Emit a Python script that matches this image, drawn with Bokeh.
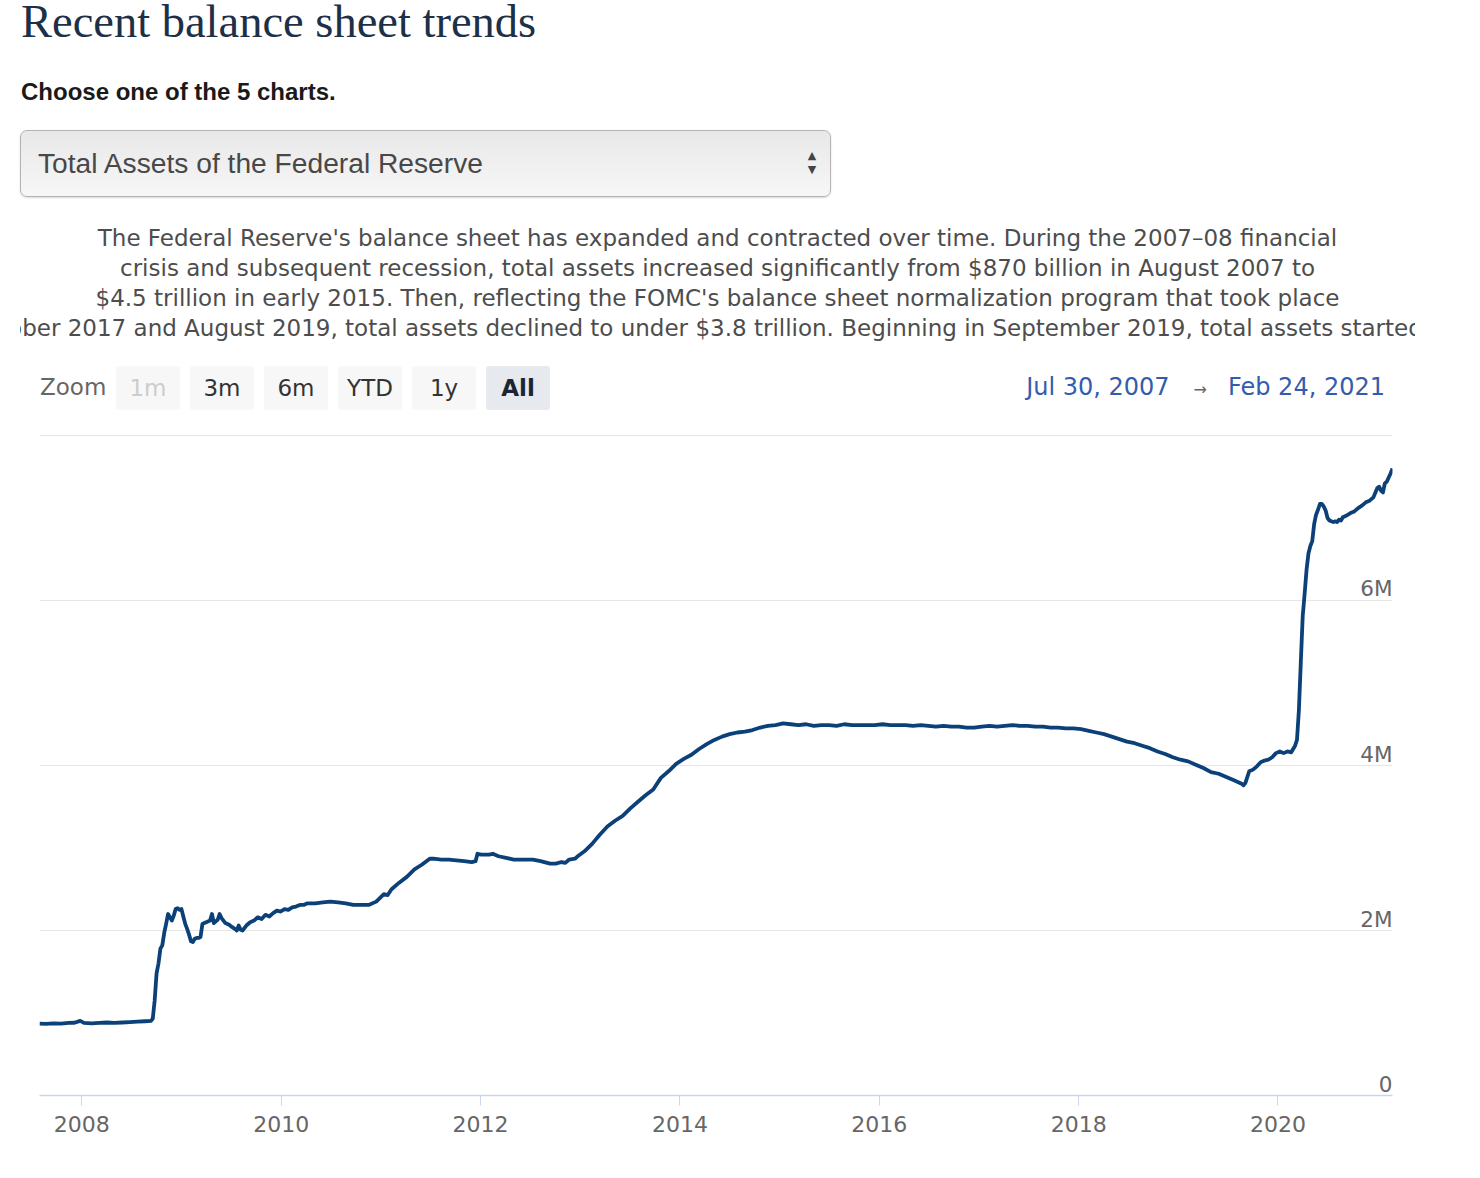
import pandas as pd
from bokeh.plotting import figure
from bokeh.models import (Div, Range1d, FixedTicker, DatetimeTickFormatter, ColumnDataSource,
                          LabelSet)
from bokeh.layouts import column
from bokeh.embed import file_html
from bokeh.resources import INLINE
from bokeh.core.properties import value

# ---------------- data ----------------
dates = [
    "2007-07-30", "2007-08-22", "2007-09-19", "2007-10-17", "2007-11-14", "2007-12-05",
    "2007-12-26", "2008-01-09", "2008-02-06", "2008-03-05", "2008-04-02", "2008-04-30",
    "2008-05-28", "2008-06-25", "2008-07-23", "2008-08-20", "2008-09-10", "2008-09-17",
    "2008-09-24", "2008-10-01", "2008-10-08", "2008-10-15", "2008-10-22", "2008-10-29",
    "2008-11-05", "2008-11-12", "2008-11-19", "2008-11-26", "2008-12-03", "2008-12-10",
    "2008-12-17", "2008-12-24", "2008-12-31", "2009-01-07", "2009-01-14", "2009-01-21",
    "2009-01-28", "2009-02-04", "2009-02-11", "2009-02-18", "2009-02-25", "2009-03-04",
    "2009-03-11", "2009-03-18", "2009-03-25", "2009-04-01", "2009-04-15", "2009-04-22",
    "2009-04-29", "2009-05-06", "2009-05-13", "2009-05-20", "2009-05-27", "2009-06-03",
    "2009-06-10", "2009-06-24", "2009-07-01", "2009-07-15", "2009-07-22", "2009-07-29",
    "2009-08-05", "2009-08-12", "2009-08-26", "2009-09-09", "2009-09-23", "2009-10-07",
    "2009-10-21", "2009-11-04", "2009-11-18", "2009-12-02", "2009-12-16", "2009-12-30",
    "2010-01-13", "2010-01-27", "2010-02-10", "2010-02-24", "2010-03-10", "2010-03-24",
    "2010-04-07", "2010-05-05", "2010-06-02", "2010-06-30", "2010-07-28", "2010-08-25",
    "2010-09-22", "2010-10-20", "2010-11-17", "2010-12-15", "2011-01-12", "2011-01-26",
    "2011-02-09", "2011-03-09", "2011-04-06", "2011-05-04", "2011-06-01", "2011-06-29",
    "2011-07-13", "2011-08-10", "2011-09-07", "2011-10-05", "2011-11-02", "2011-11-30",
    "2011-12-14", "2011-12-21", "2012-01-04", "2012-02-01", "2012-02-15", "2012-03-07",
    "2012-04-04", "2012-05-02", "2012-06-13", "2012-07-11", "2012-08-08", "2012-09-12",
    "2012-10-03", "2012-10-24", "2012-11-07", "2012-11-21", "2012-12-12", "2012-12-26",
    "2013-01-16", "2013-02-13", "2013-03-13", "2013-04-10", "2013-05-08", "2013-06-05",
    "2013-07-03", "2013-07-31", "2013-08-28", "2013-09-25", "2013-10-23", "2013-11-20",
    "2013-12-18", "2014-01-15", "2014-02-12", "2014-03-12", "2014-04-09", "2014-05-07",
    "2014-06-04", "2014-07-02", "2014-07-30", "2014-08-27", "2014-09-24", "2014-10-22",
    "2014-11-19", "2014-12-17", "2015-01-14", "2015-02-11", "2015-03-11", "2015-04-08",
    "2015-05-06", "2015-06-03", "2015-07-01", "2015-07-29", "2015-08-26", "2015-09-23",
    "2015-10-21", "2015-11-18", "2015-12-16", "2016-01-13", "2016-02-10", "2016-03-09",
    "2016-04-06", "2016-05-04", "2016-06-01", "2016-06-29", "2016-07-27", "2016-08-24",
    "2016-09-21", "2016-10-19", "2016-11-16", "2016-12-14", "2017-01-11", "2017-02-08",
    "2017-03-08", "2017-04-05", "2017-05-03", "2017-05-31", "2017-06-28", "2017-07-26",
    "2017-08-23", "2017-09-20", "2017-10-18", "2017-11-15", "2017-12-13", "2018-01-10",
    "2018-02-07", "2018-03-07", "2018-04-04", "2018-05-02", "2018-05-30", "2018-06-27",
    "2018-07-25", "2018-08-22", "2018-09-19", "2018-10-17", "2018-11-14", "2018-12-12",
    "2019-01-09", "2019-02-06", "2019-03-06", "2019-04-03", "2019-05-01", "2019-05-29",
    "2019-06-26", "2019-07-24", "2019-08-21", "2019-08-28", "2019-09-04", "2019-09-18",
    "2019-10-02", "2019-10-16", "2019-10-30", "2019-11-13", "2019-11-27", "2019-12-11",
    "2019-12-25", "2020-01-08", "2020-01-22", "2020-02-05", "2020-02-19", "2020-03-04",
    "2020-03-11", "2020-03-18", "2020-03-25", "2020-04-01", "2020-04-08", "2020-04-15",
    "2020-04-22", "2020-04-29", "2020-05-06", "2020-05-13", "2020-05-20", "2020-05-27",
    "2020-06-03", "2020-06-10", "2020-06-17", "2020-06-24", "2020-07-01", "2020-07-08",
    "2020-07-15", "2020-07-22", "2020-07-29", "2020-08-05", "2020-08-12", "2020-08-19",
    "2020-08-26", "2020-09-09", "2020-09-23", "2020-10-07", "2020-10-21", "2020-11-04",
    "2020-11-18", "2020-12-02", "2020-12-16", "2020-12-30", "2021-01-06", "2021-01-13",
    "2021-01-20", "2021-01-27", "2021-02-03", "2021-02-10", "2021-02-17", "2021-02-24",
]

# total assets, trillions of dollars
assets_trillions = [
    0.870, 0.868, 0.875, 0.872, 0.880, 0.882,
    0.905, 0.880, 0.875, 0.880, 0.885, 0.880,
    0.885, 0.890, 0.895, 0.900, 0.905, 0.930,
    1.15, 1.48, 1.60, 1.78, 1.82, 1.97,
    2.08, 2.20, 2.16, 2.12, 2.18, 2.26,
    2.27, 2.25, 2.26, 2.17, 2.08, 2.02,
    1.95, 1.87, 1.86, 1.90, 1.91, 1.91,
    1.92, 2.08, 2.09, 2.10, 2.12, 2.20,
    2.09, 2.11, 2.13, 2.20, 2.15, 2.12,
    2.09, 2.07, 2.05, 2.02, 2.00, 2.06,
    2.01, 2.00, 2.06, 2.10, 2.12, 2.16,
    2.14, 2.19, 2.17, 2.21, 2.24, 2.23,
    2.26, 2.25, 2.28, 2.29, 2.31, 2.31,
    2.33, 2.33, 2.34, 2.35, 2.34, 2.33,
    2.31, 2.31, 2.31, 2.35, 2.44, 2.43,
    2.50, 2.58, 2.65, 2.74, 2.80, 2.87,
    2.87, 2.86, 2.86, 2.85, 2.84, 2.83,
    2.84, 2.93, 2.92, 2.92, 2.93, 2.90,
    2.88, 2.86, 2.86, 2.86, 2.84, 2.81,
    2.81, 2.83, 2.82, 2.86, 2.87, 2.91,
    2.96, 3.05, 3.16, 3.26, 3.33, 3.39,
    3.48, 3.56, 3.64, 3.71, 3.85, 3.93,
    4.02, 4.08, 4.13, 4.20, 4.26, 4.31,
    4.35, 4.38, 4.40, 4.41, 4.43, 4.46,
    4.48, 4.49, 4.51, 4.50, 4.49, 4.50,
    4.48, 4.49, 4.49, 4.48, 4.50, 4.49,
    4.49, 4.49, 4.49, 4.50, 4.49, 4.49,
    4.49, 4.48, 4.49, 4.48, 4.47, 4.48,
    4.47, 4.47, 4.46, 4.46, 4.47, 4.48,
    4.47, 4.48, 4.49, 4.48, 4.48, 4.47,
    4.47, 4.46, 4.46, 4.45, 4.45, 4.44,
    4.42, 4.40, 4.38, 4.35, 4.32, 4.29,
    4.27, 4.24, 4.21, 4.17, 4.14, 4.10,
    4.07, 4.05, 4.01, 3.97, 3.92, 3.90,
    3.86, 3.82, 3.78, 3.76, 3.79, 3.93,
    3.95, 3.99, 4.04, 4.06, 4.07, 4.10,
    4.15, 4.17, 4.15, 4.17, 4.16, 4.24,
    4.31, 4.67, 5.25, 5.81, 6.08, 6.37,
    6.57, 6.66, 6.72, 6.93, 7.04, 7.10,
    7.17, 7.17, 7.14, 7.09, 7.00, 6.97,
    6.96, 6.95, 6.96, 6.95, 6.98, 6.97,
    7.01, 7.03, 7.06, 7.08, 7.12, 7.15,
    7.19, 7.21, 7.25, 7.36, 7.38, 7.33,
    7.31, 7.42, 7.44, 7.49, 7.54, 7.60,
]

y_ticks = [0, 2_000_000, 4_000_000, 6_000_000, 8_000_000]
y_tick_labels = ["0", "2M", "4M", "6M"]
x_tick_years = [2008, 2010, 2012, 2014, 2016, 2018, 2020]
range_start = "2007-07-30"
range_end = "2021-02-24"
range_start_label = "Jul 30, 2007"
range_end_label = "Feb 24, 2021"
zoom_buttons = ["1m", "3m", "6m", "YTD", "1y", "All"]

paragraph_lines = [
    "The Federal Reserve's balance sheet has expanded and contracted over time. During the 2007\u201308 financial",
    "crisis and subsequent recession, total assets increased significantly from $870 billion in August 2007 to",
    "$4.5 trillion in early 2015. Then, reflecting the FOMC's balance sheet normalization program that took place",
    "between October 2017 and August 2019, total assets declined to under $3.8 trillion. Beginning in September 2019, total assets started to increase",
]

# ---------------- header (HTML) ----------------
CH = "'DejaVu Sans', sans-serif"


def box(left, top, w, h, inner, style=""):
    return (f'<div style="position:absolute;box-sizing:border-box;left:{left}px;top:{top}px;'
            f'width:{w}px;height:{h}px;{style}">{inner}</div>')


parts = []
# title
parts.append(box(16, -3, 700, 40, "Recent balance sheet trends",
                 "font-family:'Liberation Serif',serif;font-size:46.5px;line-height:40px;"
                 "color:#1d3047;white-space:nowrap;"))
# subtitle
parts.append(box(16, 72, 600, 30, "Choose one of the 5 charts.",
                 "font-family:'Liberation Sans',Arial,sans-serif;font-weight:bold;font-size:24px;"
                 "line-height:30px;color:#1a1a1a;white-space:nowrap;"))
# dropdown
parts.append(box(15, 125, 811, 67, "",
                 "border:1px solid #b4b4b4;border-radius:7px;"
                 "background:linear-gradient(to bottom,#e8e8e8,#f7f7f7);"
                 "box-shadow:0 1px 2px rgba(0,0,0,0.15);"))
parts.append(box(33, 141, 700, 34, "Total Assets of the Federal Reserve",
                 "font-family:'Liberation Sans',Arial,sans-serif;font-size:28.2px;line-height:34px;"
                 "color:#484848;white-space:nowrap;"))
parts.append(box(799, 143, 16, 16, "\u25B2",
                 "font-family:'DejaVu Sans';font-size:11px;line-height:16px;color:#444;text-align:center;"))
parts.append(box(799, 157, 16, 16, "\u25BC",
                 "font-family:'DejaVu Sans';font-size:11px;line-height:16px;color:#444;text-align:center;"))
# paragraph, clipped container from page x=20 to 1415
lines_html = ""
for i, ln in enumerate(paragraph_lines):
    shift = -608 if i == 3 else -600
    lines_html += (f'<div style="position:absolute;left:{shift}px;width:2595px;top:{218 + 30 * i}px;'
                   f'height:30px;line-height:30px;text-align:center;white-space:nowrap;">{ln}</div>')
parts.append(box(15, 0, 1395, 345, lines_html,
                 f"overflow:hidden;font-family:{CH};font-size:23px;color:#4d4d4d;"))
# zoom label + buttons
parts.append(box(35, 367, 80, 30, "Zoom",
                 f"font-family:{CH};font-size:23px;line-height:30px;color:#666666;white-space:nowrap;"))
for i, b in enumerate(zoom_buttons):
    left = 111 + 74 * i
    if b == "1m":
        st = "background:#f7f7f7;color:#cccccc;"
    elif b == "All":
        st = "background:#e6e9ed;color:#1b2533;font-weight:bold;"
    else:
        st = "background:#f7f7f7;color:#333333;"
    parts.append(box(left, 361, 64, 44, b,
                     f"border-radius:3px;text-align:center;font-family:{CH};font-size:23px;"
                     f"line-height:44px;{st}"))
# date range
parts.append(box(880, 367, 500, 30,
                 f'<span style="color:#335cad">{range_start_label}</span>'
                 f'<span style="color:#666666;margin:0 21px 0 24px;font-size:16px;">\u2192</span>'
                 f'<span style="color:#335cad">{range_end_label}</span>',
                 f"font-family:{CH};font-size:24px;line-height:30px;text-align:right;white-space:nowrap;"))

header_html = ('<div style="position:relative;width:1464px;height:410px;">'
               + "".join(parts) + "</div>")
header = Div(text=header_html, width=1464, height=410)

# ---------------- chart ----------------
df = pd.DataFrame({"date": pd.to_datetime(dates),
                   "assets": [v * 1_000_000 for v in assets_trillions]})
source = ColumnDataSource(df)

x0 = pd.Timestamp(range_start)
x1 = pd.Timestamp(range_end)

# one extra pixel above 8M so that the top grid line shows
p = figure(width=1464, height=725, x_axis_type="datetime", y_axis_location=None,
           x_range=Range1d(x0, x1), y_range=Range1d(0, 8_012_121),
           output_backend="svg", toolbar_location=None,
           min_border_left=39, min_border_right=72, min_border_top=14, min_border_bottom=50)
p.outline_line_color = None
p.background_fill_color = "white"
p.border_fill_color = "white"
p.xgrid.grid_line_color = None
p.ygrid.ticker = FixedTicker(ticks=y_ticks)
p.ygrid.grid_line_color = "#e6e6e6"
p.ygrid.grid_line_width = 1

x_ticks_ms = [pd.Timestamp(f"{y}-01-01").value // 10**6 for y in x_tick_years]
p.xaxis.ticker = FixedTicker(ticks=x_ticks_ms)
p.xaxis.formatter = DatetimeTickFormatter(years="%Y", months="%Y", days="%Y", hours="%Y",
                                          context=None)
p.xaxis.axis_line_color = "#ccd6eb"
p.xaxis.axis_line_width = 1.5
p.xaxis.major_tick_line_color = "#ccd6eb"
p.xaxis.major_tick_out = 10
p.xaxis.major_tick_in = 0
p.xaxis.minor_tick_out = 0
p.xaxis.minor_tick_in = 0
p.xaxis.major_label_text_font = "DejaVu Sans"
p.xaxis.major_label_text_font_size = "22px"
p.xaxis.major_label_text_color = "#666666"
p.xaxis.major_label_standoff = 10

p.line(x="date", y="assets", source=source, line_color="#0b4178", line_width=3.8,
       line_join="round")

# y tick labels inside the plot, right aligned, just above each grid line
n_lab = len(y_tick_labels)
label_src = ColumnDataSource(dict(x=[x1] * n_lab,
                                  y=y_ticks[:n_lab],
                                  text=y_tick_labels,
                                  yo=[4] + [-1] * (n_lab - 1)))
p.add_layout(LabelSet(x="x", y="y", text="text", source=label_src,
                      text_align="right", text_baseline="bottom", y_offset="yo",
                      text_font=value("DejaVu Sans"), text_font_size=value("21.5px"),
                      text_color=value("#666666")))

layout = column(header, p, spacing=0)
open("out.html", "w").write(file_html(layout, INLINE, title="Recent balance sheet trends"))
